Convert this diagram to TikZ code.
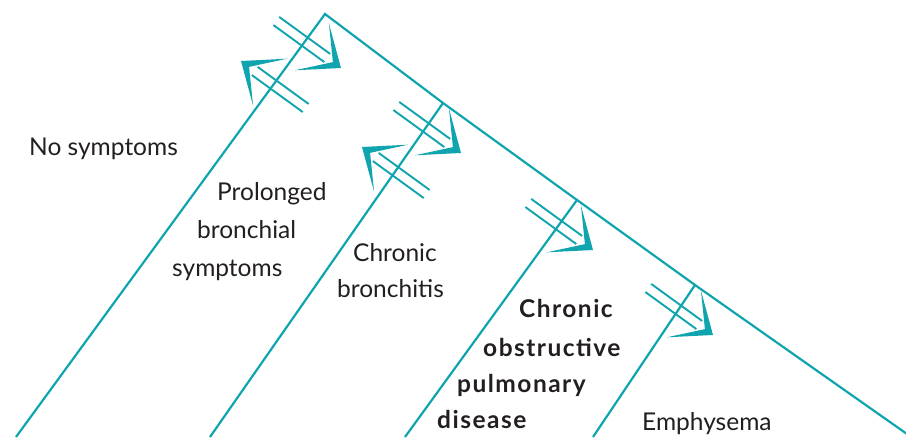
\documentclass[tikz,border=0pt]{standalone}
\usepackage{fontspec}
\setmainfont{Lato}
\definecolor{copd}{RGB}{16,164,174}
\definecolor{ink}{RGB}{35,31,32}
\begin{document}
\begin{tikzpicture}[x=1pt,y=1pt,
  axisline/.style={draw=copd,line width=2.2pt},
  arrline/.style={draw=copd,line width=1.9pt},
  lab/.style={anchor=base west,inner sep=0pt,text=ink,font=\fontsize{24.5}{29}\selectfont},
  blab/.style={anchor=base west,inner sep=0pt,text=ink,font=\fontsize{24.5}{29}\selectfont\bfseries\addfontfeatures{LetterSpace=6}},
  dblarr/.pic={
    \draw[arrline] (-80,5) -- (-17,5);
    \draw[arrline] (-80,-5) -- (-17,-5);
    \fill[copd] (0,0) -- (-36,29) -- (-10,0) -- (-36,-29) -- cycle;
  }]
\useasboundingbox (0,0) rectangle (906,437);
% apexes and line ends
\coordinate (A1) at (325,423);
\coordinate (A2) at (443,334);
\coordinate (A3) at (577,237);
\coordinate (A4) at (695,152);
\coordinate (E) at (907,3);
\coordinate (B1) at (16,0);
\coordinate (B2) at (210,0);
\coordinate (B3) at (405,0);
\coordinate (B4) at (593,0);
% main lines
\draw[axisline,line join=miter] (B1) -- (A1) -- (A2) -- (A3) -- (A4) -- (E);
\draw[axisline] (B2) -- (A2);
\draw[axisline] (B3) -- (A3);
\draw[axisline] (B4) -- (A4);
% double arrows
\pic[rotate=-36] at (341,369) {dblarr};
\pic[rotate=-36] at (461,284) {dblarr};
\pic[rotate=-36] at (593,187) {dblarr};
\pic[rotate=-36] at (713,102) {dblarr};
\pic[rotate=144] at (241,376) {dblarr};
\pic[rotate=144] at (362,290) {dblarr};
% labels
\node[lab] (t1) at (29,281) {No symptoms};
\node[lab] (t2a) at (217,236) {Prolonged};
\node[lab] (t2b) at (197,198) {bronchial};
\node[lab] (t2c) at (172,160) {symptoms};
\node[lab] (t3a) at (353,175) {Chronic};
\node[lab] (t3b) at (337,139) {bronchitis};
\node[blab] (t4a) at (519,119) {Chronic};
\node[blab] (t4b) at (483,80) {obstructive};
\node[blab] (t4c) at (457,45) {pulmonary};
\node[blab] (t4d) at (437,9) {disease};
\node[lab] (t5) at (642,7) {Emphysema};
\end{tikzpicture}
\end{document}
